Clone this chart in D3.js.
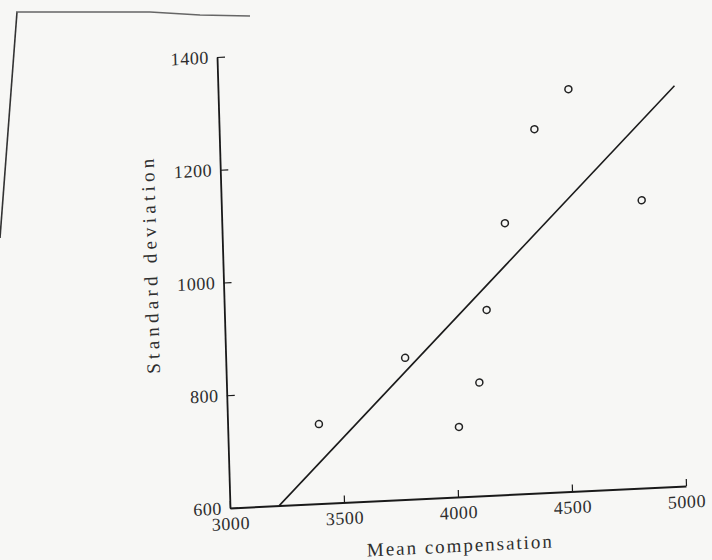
<!DOCTYPE html>
<html>
<head>
<meta charset="utf-8">
<script src="https://cdn.jsdelivr.net/npm/d3@7"></script>
<style>
  body { margin: 0; background: #f7f7f5; }
  svg { display: block; }
  .tick text { font-family: "Liberation Serif", serif; font-size: 18px; fill: #2e2e2e; letter-spacing: 0.6px; }
  .axis path, .axis line { stroke: #1a1a1a; }
</style>
</head>
<body>
<div id="chart"></div>
<script>
// data
const meanComp = [3400, 3786, 4013, 4108, 4149, 4240, 4381, 4535, 4842]
const stdDev   = [741, 851, 724, 801, 929, 1081, 1245, 1313, 1110]

// fitted line  sd = a + b * mean
const fitA = -680
const fitB = 0.398

const xTicks = [3000, 3500, 4000, 4500, 5000]
const yTicks = [600, 800, 1000, 1200, 1400]

const xLabel = "Mean compensation"
const yLabel = "Standard deviation"

// step 1: size
const width = 712, height = 560
const w = 456, h = 451

const svg = d3.select("#chart").append("svg")
  .attr("width", width)
  .attr("height", height)

// page edge left by the scan
svg.append("path")
  .attr("d", "M17,12 L0,238")
  .attr("stroke", "#333").attr("stroke-width", 1.6).attr("fill", "none")
svg.append("path")
  .attr("d", "M16,12 L150,12 L200,15 L250,16")
  .attr("stroke", "#666").attr("stroke-width", 1.3).attr("fill", "none")

// the scanned page is a little skewed, so the plot gets an affine transform
const g = svg.append("g")
  .attr("transform", "matrix(1,-0.0482,0.0288,1,217,57)")

// step 2: scales
const x = d3.scaleLinear().domain([3000, 5000]).range([0, w])
const y = d3.scaleLinear().domain([600, 1400]).range([h, 0])

// step 3: axes, ticks pointing inward
g.append("g")
  .attr("class", "axis")
  .attr("transform", "translate(0," + h + ")")
  .call(d3.axisBottom(x).tickValues(xTicks).tickSizeInner(-7).tickSizeOuter(0).tickPadding(9).tickFormat(d3.format("d")))
  .call(s => s.select(".domain").attr("stroke-width", 2))
  .call(s => s.selectAll(".tick line").attr("stroke-width", 1.2))

g.append("g")
  .attr("class", "axis")
  .call(d3.axisLeft(y).tickValues(yTicks).tickSizeInner(-8).tickSizeOuter(0).tickPadding(8).tickFormat(d3.format("d")))
  .call(s => s.select(".domain").attr("stroke-width", 1.8))
  .call(s => s.selectAll(".tick line").attr("stroke-width", 1.2))

g.selectAll(".tick text").attr("font-family", null).attr("font-size", null)

// step 4: labels
g.append("text")
  .attr("x", x(4000))
  .attr("y", h + 55)
  .attr("text-anchor", "middle")
  .attr("font-family", "Liberation Serif, serif")
  .attr("font-size", 19)
  .attr("fill", "#2e2e2e")
  .attr("textLength", 185)
  .attr("lengthAdjust", "spacing")
  .text(xLabel)

g.append("text")
  .attr("transform", "translate(-66," + y(1035) + ") rotate(-90)")
  .attr("text-anchor", "middle")
  .attr("font-family", "Liberation Serif, serif")
  .attr("font-size", 19)
  .attr("fill", "#2e2e2e")
  .attr("textLength", 215)
  .attr("lengthAdjust", "spacing")
  .text(yLabel)

// step 5: fitted line, from where it leaves the x axis to x = 5000
const x0 = (600 - fitA) / fitB
g.append("line")
  .attr("x1", x(x0)).attr("y1", y(fitA + fitB * x0))
  .attr("x2", x(5000)).attr("y2", y(fitA + fitB * 5000))
  .attr("stroke", "#1a1a1a")
  .attr("stroke-width", 1.6)

// step 6: points
g.selectAll("circle")
  .data(meanComp.map((d, i) => ({ m: d, s: stdDev[i] })))
  .enter()
  .append("circle")
  .attr("cx", d => x(d.m))
  .attr("cy", d => y(d.s))
  .attr("r", 3.5)
  .attr("fill", "none")
  .attr("stroke", "#222")
  .attr("stroke-width", 1.5)
</script>
</body>
</html>
